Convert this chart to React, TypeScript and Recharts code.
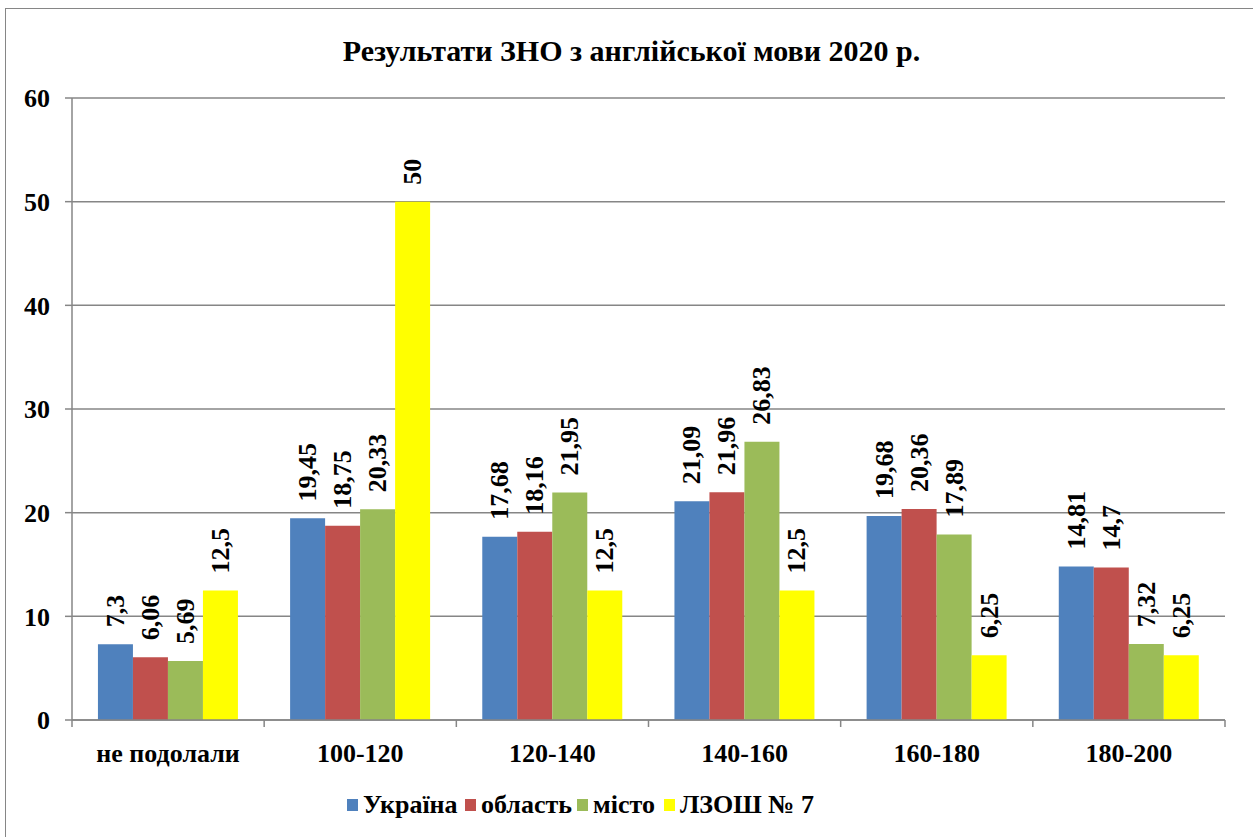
import { BarChart, Bar, XAxis, YAxis, CartesianGrid, LabelList } from "recharts";

const categories = ["не подолали", "100-120", "120-140", "140-160", "160-180", "180-200"];
const ukraine = [7.3, 19.45, 17.68, 21.09, 19.68, 14.81];
const oblast = [6.06, 18.75, 18.16, 21.96, 20.36, 14.7];
const misto = [5.69, 20.33, 21.95, 26.83, 17.89, 7.32];
const school = [12.5, 50, 12.5, 12.5, 6.25, 6.25];
const yTicks = [0, 10, 20, 30, 40, 50, 60];

const seriesList = [
  { key: "ukraine", name: "Україна", color: "#4F81BD" },
  { key: "oblast", name: "область", color: "#C0504D" },
  { key: "misto", name: "місто", color: "#9BBB59" },
  { key: "school", name: "ЛЗОШ № 7", color: "#FFFF00" },
];

const data = categories.map((c, i) => ({
  category: c,
  ukraine: ukraine[i],
  oblast: oblast[i],
  misto: misto[i],
  school: school[i],
}));

const W = 1253;
const H = 837;
const PLOT_LEFT = 72;
const PLOT_RIGHT = 1225;
const PLOT_TOP = 98;
const PLOT_BOTTOM = 720;
const Y_AXIS_W = 60;
const X_AXIS_H = 40;
const BAND = (PLOT_RIGHT - PLOT_LEFT) / categories.length;
const LEGEND_X = [347, 465, 577, 664];

const GRID = "#868686";
const SERIF = "Liberation Serif";

const fmt = (v: number) => String(v).replace(".", ",");

const css = `
#root, #root *, #root svg text, #root svg tspan {
  font-family: "Liberation Serif", "Times New Roman", serif !important;
  font-weight: bold !important;
}
`;

function ValueLabel(props: any) {
  const { x, y, width, value } = props;
  const cx = x + width / 2;
  const ty = y - 17;
  return (
    <text
      x={cx}
      y={ty}
      transform={`rotate(-90, ${cx}, ${ty})`}
      textAnchor="start"
      dominantBaseline="central"
      fontFamily={SERIF}
      fontWeight="bold"
      fontSize={26}
      fill="#000"
    >
      {fmt(value)}
    </text>
  );
}

function CategoryTick(props: any) {
  const { x, payload, index } = props;
  const left = x - BAND / 2;
  return (
    <g>
      <line x1={left} y1={PLOT_BOTTOM} x2={left} y2={PLOT_BOTTOM + 7} stroke={GRID} strokeWidth={1.5} />
      {index === categories.length - 1 && (
        <line x1={x + BAND / 2} y1={PLOT_BOTTOM} x2={x + BAND / 2} y2={PLOT_BOTTOM + 7} stroke={GRID} strokeWidth={1.5} />
      )}
      <text
        x={x}
        y={PLOT_BOTTOM + 42}
        textAnchor="middle"
        fontFamily={SERIF}
        fontWeight="bold"
        fontSize={26}
        fill="#000"
      >
        {payload.value}
      </text>
    </g>
  );
}

export default function App() {
  return (
    <div style={{ position: "absolute", left: 0, top: 0, width: W, height: H }}>
      <style>{css}</style>
      <div
        style={{
          position: "absolute",
          left: 5,
          top: 8,
          width: W - 5,
          height: H - 8,
          boxSizing: "border-box",
          borderLeft: `1.5px solid ${GRID}`,
          borderTop: `1.5px solid ${GRID}`,
        }}
      />
      <div
        style={{
          position: "absolute",
          left: 10,
          width: W - 10,
          top: 34,
          textAlign: "center",
          fontFamily: SERIF,
          fontWeight: "bold",
          fontSize: 30,
        }}
      >
        Результати ЗНО з англійської мови 2020 р.
      </div>
      <div style={{ position: "absolute", left: 0, top: 0 }}>
        <BarChart
          width={W}
          height={H}
          data={data}
          barCategoryGap="13.5%"
          barGap={0}
          margin={{
            top: PLOT_TOP,
            left: PLOT_LEFT - Y_AXIS_W,
            right: W - PLOT_RIGHT,
            bottom: H - PLOT_BOTTOM - X_AXIS_H,
          }}
        >
          <CartesianGrid vertical={false} stroke={GRID} strokeWidth={1.5} />
          <XAxis
            dataKey="category"
            height={X_AXIS_H}
            axisLine={{ stroke: GRID, strokeWidth: 1.5 }}
            tickLine={false}
            tick={<CategoryTick />}
            interval={0}
          />
          <YAxis
            width={Y_AXIS_W}
            domain={[0, 60]}
            ticks={yTicks}
            axisLine={{ stroke: GRID, strokeWidth: 1.5 }}
            tickLine={{ stroke: GRID, strokeWidth: 1.5 }}
            tickSize={7}
            tick={{ fontFamily: SERIF, fontWeight: "bold", fontSize: 26, fill: "#000", dx: -13 }}
          />
          {seriesList.map((s) => (
            <Bar key={s.key} dataKey={s.key} name={s.name} fill={s.color} isAnimationActive={false}>
              <LabelList dataKey={s.key} content={<ValueLabel />} />
            </Bar>
          ))}
        </BarChart>
      </div>
      {seriesList.map((s, i) => (
        <div
          key={s.key}
          style={{
            position: "absolute",
            left: LEGEND_X[i],
            top: 790,
            display: "flex",
            alignItems: "center",
            fontFamily: SERIF,
            fontWeight: "bold",
            fontSize: 26,
            whiteSpace: "nowrap",
          }}
        >
          <span style={{ display: "inline-block", width: 11, height: 12, background: s.color, marginRight: 5 }} />
          <span>{s.name}</span>
        </div>
      ))}
    </div>
  );
}
